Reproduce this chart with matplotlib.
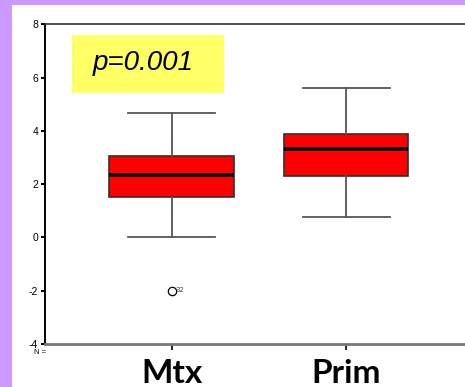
import matplotlib
matplotlib.use('Agg')
import matplotlib.pyplot as plt
from matplotlib.patches import Rectangle

# data
groups = ['Mtx', 'Prim']
whis_lo = [0.0, 0.78]
q1 = [1.51, 2.30]
median = [2.36, 3.31]
q3 = [3.07, 3.88]
whis_hi = [4.67, 5.62]
outliers = [[-2.0], []]
outlier_ids = [['32'], []]
yticks = [-4, -2, 0, 2, 4, 6, 8]
p_text = 'p=0.001'

W, H = 465, 387
fig = plt.figure(figsize=(W / 100, H / 100), dpi=100)
fig.patch.set_facecolor('#CC99FF')

# white panel
fig.add_artist(Rectangle((12 / W, 0), 1 - 12 / W, 1 - 5 / H, transform=fig.transFigure,
                         facecolor='white', edgecolor='none', zorder=0))

ax = fig.add_axes([45 / W, (H - 344) / H, 430 / W, (344 - 24.3) / H])
ax.set_facecolor('none')

stats = []
for i, g in enumerate(groups):
    stats.append({'label': g, 'med': median[i], 'q1': q1[i], 'q3': q3[i],
                  'whislo': whis_lo[i], 'whishi': whis_hi[i], 'fliers': outliers[i]})

ax.bxp(stats, positions=[1, 2], widths=0.713, patch_artist=True, showfliers=True,
       boxprops=dict(facecolor='#FF0000', edgecolor='#303030', linewidth=1.2),
       medianprops=dict(color='black', linewidth=2.6),
       whiskerprops=dict(color='#555555', linewidth=1.3),
       capprops=dict(color='#555555', linewidth=1.3),
       capwidths=0.5,
       flierprops=dict(marker='o', markersize=6, markerfacecolor='white',
                       markeredgecolor='black', markeredgewidth=0.9))

for i, ids in enumerate(outlier_ids):
    for v, lab in zip(outliers[i], ids):
        ax.annotate(lab, (i + 1, v), xytext=(2.5, 0.5), textcoords='offset points',
                    fontsize=5, color='#444444', va='center', ha='left')

ax.set_xlim(0.274, 2.738)
ax.set_ylim(-4, 8)
ax.set_yticks(yticks)
ax.set_yticklabels([str(t) for t in yticks], fontsize=7.5, family='Liberation Sans')
ax.tick_params(axis='y', direction='out', length=3, width=1.5, color='black', pad=2)
ax.set_xticks([1, 2])
ax.set_xticklabels(groups, fontsize=24, fontweight='bold', family='Lato')
ax.tick_params(axis='x', direction='out', length=4, width=1.2, color='black', pad=7)

ax.spines['right'].set_visible(False)
ax.spines['left'].set_color('black')
ax.spines['left'].set_linewidth(1.4)
ax.spines['bottom'].set_color('#777777')
ax.spines['bottom'].set_linewidth(2)
ax.spines['top'].set_color('#333333')
ax.spines['top'].set_linewidth(1.2)

fig.text(40 / W, 1 - 352 / H, 'N =', fontsize=5.5, family='Liberation Sans',
         ha='center', va='center')

# yellow p-value box
fig.add_artist(Rectangle((72 / W, 1 - 92.7 / H), 152 / W, 57.7 / H, transform=fig.transFigure,
                         facecolor='#FFFF66', edgecolor='none', zorder=3))
fig.text(143 / W, 1 - 63 / H, p_text, fontsize=20, style='italic', family='Liberation Sans',
         ha='center', va='center', zorder=4)

fig.savefig('out.png', dpi=100, facecolor=fig.get_facecolor())
